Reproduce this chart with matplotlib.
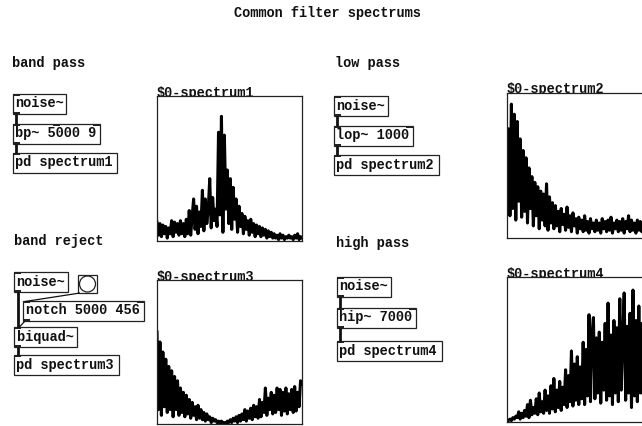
import matplotlib.pyplot as plt
from matplotlib.patches import Rectangle, Circle

# spectrum arrays (0 = bottom of graph, 1 = top)
band_pass = [0.13, 0.04, 0.12, 0.03, 0.11, 0.05, 0.10, 0.02, 0.09, 0.05,
             0.14, 0.03, 0.13, 0.06, 0.12, 0.04, 0.14, 0.05, 0.12, 0.03,
             0.15, 0.05, 0.21, 0.04, 0.17, 0.29, 0.08, 0.24, 0.05, 0.20,
             0.10, 0.35, 0.07, 0.29, 0.12, 0.22, 0.43, 0.09, 0.30, 0.14,
             0.22, 0.10, 0.75, 0.18, 0.86, 0.06, 0.73, 0.22, 0.49, 0.12,
             0.43, 0.08, 0.37, 0.15, 0.29, 0.06, 0.24, 0.10, 0.19, 0.05,
             0.17, 0.08, 0.14, 0.04, 0.15, 0.06, 0.12, 0.03, 0.11, 0.05,
             0.10, 0.03, 0.09, 0.04, 0.08, 0.02, 0.07, 0.03, 0.06, 0.02,
             0.05, 0.02, 0.04, 0.01, 0.05, 0.02, 0.04, 0.01, 0.03, 0.02,
             0.04, 0.02, 0.03, 0.01, 0.04, 0.02, 0.05, 0.01, 0.03, 0.02]

low_pass = [0.30, 0.75, 0.15, 0.92, 0.20, 0.85, 0.12, 0.80, 0.25, 0.68,
            0.14, 0.60, 0.18, 0.55, 0.10, 0.48, 0.20, 0.42, 0.08, 0.38,
            0.15, 0.35, 0.06, 0.32, 0.12, 0.30, 0.08, 0.37, 0.05, 0.28,
            0.10, 0.24, 0.06, 0.22, 0.08, 0.18, 0.04, 0.20, 0.09, 0.16,
            0.05, 0.21, 0.07, 0.15, 0.04, 0.17, 0.08, 0.13, 0.03, 0.14,
            0.06, 0.12, 0.04, 0.15, 0.05, 0.11, 0.03, 0.13, 0.06, 0.10,
            0.04, 0.12, 0.05, 0.10, 0.03, 0.13, 0.06, 0.11, 0.04, 0.12,
            0.05, 0.14, 0.03, 0.10, 0.06, 0.12, 0.04, 0.11, 0.05, 0.13,
            0.03, 0.11, 0.06, 0.15, 0.04, 0.12, 0.05, 0.10, 0.03, 0.12,
            0.05, 0.11, 0.04, 0.10, 0.06, 0.12, 0.03, 0.11, 0.05, 0.10]

band_reject = [0.64, 0.10, 0.57, 0.06, 0.50, 0.12, 0.45, 0.08, 0.40, 0.10,
               0.37, 0.05, 0.33, 0.10, 0.30, 0.06, 0.25, 0.08, 0.22, 0.05,
               0.20, 0.07, 0.17, 0.04, 0.15, 0.06, 0.12, 0.03, 0.13, 0.04,
               0.10, 0.03, 0.08, 0.02, 0.07, 0.03, 0.05, 0.01, 0.04, 0.02,
               0.03, 0.01, 0.02, 0.00, 0.02, 0.01, 0.01, 0.00, 0.02, 0.01,
               0.03, 0.01, 0.04, 0.02, 0.05, 0.01, 0.06, 0.02, 0.07, 0.03,
               0.10, 0.02, 0.09, 0.04, 0.11, 0.03, 0.13, 0.05, 0.12, 0.04,
               0.17, 0.05, 0.15, 0.08, 0.25, 0.06, 0.18, 0.10, 0.22, 0.07,
               0.20, 0.08, 0.25, 0.10, 0.24, 0.06, 0.22, 0.09, 0.25, 0.07,
               0.21, 0.10, 0.24, 0.08, 0.26, 0.09, 0.22, 0.12, 0.30, 0.28]

high_pass = [0.01, 0.01, 0.02, 0.01, 0.03, 0.02, 0.04, 0.03, 0.07, 0.02,
             0.06, 0.03, 0.08, 0.04, 0.12, 0.03, 0.15, 0.05, 0.10, 0.06,
             0.16, 0.05, 0.20, 0.07, 0.14, 0.06, 0.22, 0.08, 0.18, 0.06,
             0.25, 0.09, 0.30, 0.07, 0.22, 0.10, 0.28, 0.08, 0.24, 0.12,
             0.36, 0.10, 0.32, 0.14, 0.49, 0.11, 0.40, 0.15, 0.45, 0.12,
             0.38, 0.16, 0.55, 0.12, 0.50, 0.18, 0.74, 0.14, 0.60, 0.72,
             0.16, 0.58, 0.20, 0.62, 0.13, 0.55, 0.22, 0.68, 0.15, 0.82,
             0.18, 0.60, 0.12, 0.70, 0.20, 0.65, 0.14, 0.85, 0.22, 0.58,
             0.89, 0.15, 0.66, 0.20, 0.75, 0.10, 0.91, 0.18, 0.70, 0.14,
             0.80, 0.20, 0.68, 0.12, 0.85, 0.16, 0.72, 0.22, 0.78, 0.15]

W, H = 642, 426
FONT = dict(family='Liberation Mono', weight='bold', size=9.8, color='#111111')

fig = plt.figure(figsize=(W / 100, H / 100), dpi=100)
ax = fig.add_axes([0, 0, 1, 1])
ax.set_xlim(0, W)
ax.set_ylim(H, 0)
ax.axis('off')


def obj(x, y, w, text, inlets=1, outlets=1, h=20):
    ax.add_patch(Rectangle((x, y), w, h, fill=False, lw=0.9, ec='#222222'))
    ax.text(x + 2.5, y + 13.5, text, va='baseline', **FONT)
    # inlets / outlets
    for i in range(inlets):
        px = x if inlets == 1 else x + i * (w - 7) / (inlets - 1)
        ax.add_patch(Rectangle((px, y), 7, 2, color='#222222', lw=0))
    for i in range(outlets):
        ax.add_patch(Rectangle((x, y + h - 2), 7, 2, color='#222222', lw=0))


def wire(x0, y0, x1, y1, lw=2.0):
    ax.plot([x0, x1], [y0, y1], color='#111111', lw=lw, solid_capstyle='butt')


def graph(x, y, w, h, vals, name):
    g = fig.add_axes([x / W, 1 - (y + h) / H, w / W, h / H])
    g.plot(range(len(vals)), vals, color='black', lw=2.2)
    g.set_xlim(0, len(vals) - 1)
    g.set_ylim(0, 1)
    g.set_xticks([])
    g.set_yticks([])
    for s in g.spines.values():
        s.set_linewidth(0.9)
        s.set_color('#222222')
    ax.text(x, y + 1, name, va='baseline', **FONT)


# titles
ax.text(327, 16.5, 'Common filter spectrums', ha='center', va='baseline', **FONT)
ax.text(12.5, 67, 'band pass', va='baseline', **FONT)
ax.text(335, 67, 'low pass', va='baseline', **FONT)
ax.text(14, 245, 'band reject', va='baseline', **FONT)
ax.text(336.5, 246.5, 'high pass', va='baseline', **FONT)

# band pass
obj(12.5, 93.5, 53, 'noise~')
obj(12.5, 123.5, 87, 'bp~ 5000 9', inlets=3)
obj(12.5, 152.5, 104, 'pd spectrum1', outlets=0)
wire(15.5, 113.5, 15.5, 123.5)
wire(15.5, 143.5, 15.5, 152.5)
graph(157, 96, 145, 145, band_pass, r'\$0-spectrum1')

# low pass
obj(334, 96, 54, 'noise~')
obj(334, 126, 79, 'lop~ 1000', inlets=2)
obj(334, 155, 105, 'pd spectrum2', outlets=0)
wire(337, 116, 337, 126)
wire(337, 146, 337, 155)
graph(507, 92.5, 145, 145, low_pass, r'\$0-spectrum2')

# band reject
obj(14, 272, 54, 'noise~')
ax.add_patch(Rectangle((78, 275), 19, 18, fill=False, lw=0.9, ec='#222222'))
ax.add_patch(Circle((87.5, 284), 8, fill=False, lw=0.9, ec='#222222'))
obj(23, 301, 121, 'notch 5000 456', inlets=2)
obj(14, 327, 63, 'biquad~')
obj(14, 355, 105, 'pd spectrum3', outlets=0)
wire(17.5, 292, 17.5, 327)
wire(17.5, 347, 17.5, 355)
wire(80, 293, 25, 301.5, lw=0.9)
wire(25, 321, 19, 327.5, lw=0.9)
graph(157, 280, 145, 144, band_reject, r'\$0-spectrum3')

# high pass
obj(336.5, 277, 54, 'noise~')
obj(336.5, 307.5, 79, 'hip~ 7000', inlets=2)
obj(336.5, 341, 105, 'pd spectrum4', outlets=0)
wire(339.5, 297, 339.5, 307.5)
wire(339.5, 327.5, 339.5, 341)
graph(507, 277, 145, 145, high_pass, r'\$0-spectrum4')

fig.savefig('out.png', dpi=100)
